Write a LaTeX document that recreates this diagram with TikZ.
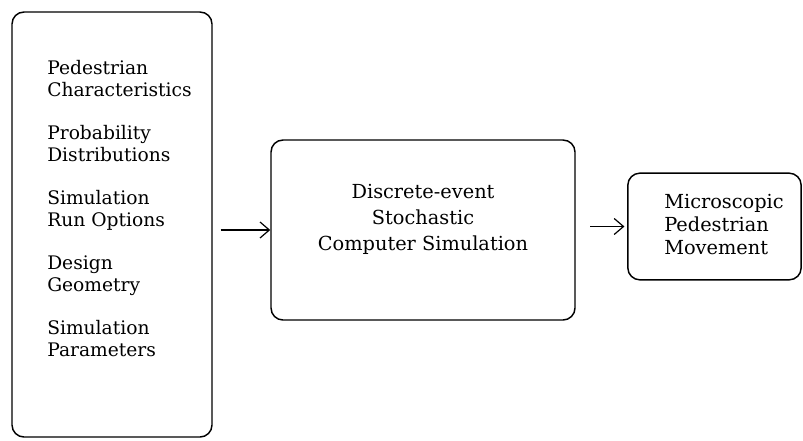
\documentclass[tikz,border=0pt]{standalone}
\usepackage{fontspec}
\setmainfont{DejaVu Serif}
\usetikzlibrary{arrows.meta,positioning}

\tikzset{
  stage/.style={draw,line width=1.1pt,rounded corners=9pt,inner sep=0pt},
  flow/.style={->,line width=0.9pt}
}

\begin{document}
\begin{tikzpicture}[x=0.75pt,y=-0.75pt,>={Straight Barb[length=7pt,width=12pt]}]
  \useasboundingbox (0,0) rectangle (803,440);
  % input box
  \node[stage,minimum width=150pt,minimum height=318.75pt] (inputs) at (112,224.5) {};
  \node[align=left,anchor=west,inner sep=0pt,font=\fontsize{14}{16.5}\selectfont] (inputlist) at (47,208.5)
    {Pedestrian\\Characteristics\\[15.75pt]
     Probability\\Distributions\\[15.75pt]
     Simulation\\Run Options\\[15.75pt]
     Design\\Geometry\\[15.75pt]
     Simulation\\Parameters};
  % simulation box
  \node[stage,minimum width=228pt,minimum height=135pt] (sim) at (423,230) {};
  \node[align=center,inner sep=0pt,font=\fontsize{14.5}{19.5}\selectfont] (simtext) at (423,219)
    {Discrete-event\\Stochastic\\Computer Simulation};
  % output box
  \node[stage,minimum width=130pt,minimum height=80pt] (output) at (714.5,226.5) {};
  \node[align=left,anchor=west,inner sep=0pt,font=\fontsize{14.5}{17.25}\selectfont] (outtext) at (664,225)
    {Microscopic\\Pedestrian\\Movement};
  \draw[flow,shorten <=6pt] (inputs.east |- sim.west) -- (sim.west);
  \draw[flow,shorten <=11pt,shorten >=2pt] (sim.east |- output.west) -- (output.west);
\end{tikzpicture}
\end{document}
